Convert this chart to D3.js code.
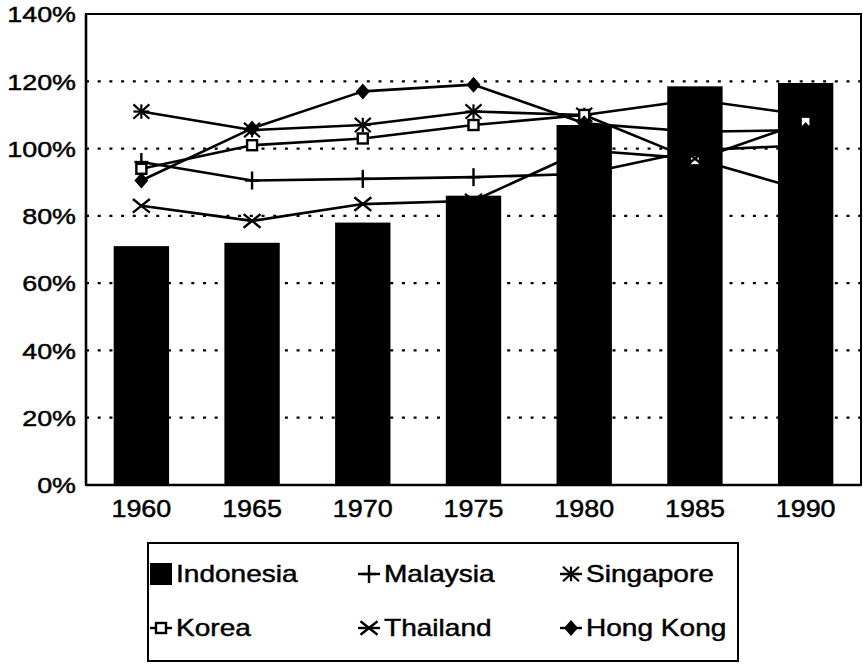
<!DOCTYPE html>
<html>
<head>
<meta charset="utf-8">
<script src="https://cdn.jsdelivr.net/npm/d3@7"></script>
<style>
  html, body { margin: 0; padding: 0; background: #fff; }
  svg { display: block; }
  text { font-family: "Liberation Sans", Arial, Helvetica, sans-serif; fill: #000; stroke: #000; stroke-width: 0.45px; }
</style>
</head>
<body>
<svg id="chart" width="863" height="664"></svg>
<script>
// Gross enrolment ratios, 1960-1990
const years = ["1960", "1965", "1970", "1975", "1980", "1985", "1990"];
const indonesia = [71, 72, 78, 86, 107, 118.5, 119.5];
const malaysia  = [96, 90.5, 91, 91.5, 92.5, 99.5, 101];
const singapore = [111, 105.5, 107, 111, 110, 114.5, 110];
const korea     = [94, 101, 103, 107, 110, 96.5, 108];
const thailand  = [83, 78.5, 83.5, 84.5, 99.5, 97, 87.5];
const hongKong  = [90.5, 106, 117, 119, 107.5, 105, 105.5];
const yTicks = [0, 20, 40, 60, 80, 100, 120, 140];
const gridTicks = [20, 40, 60, 80, 100, 120];

const lineSeries = [
  { name: "Malaysia",  values: malaysia,  marker: "plus" },
  { name: "Singapore", values: singapore, marker: "asterisk" },
  { name: "Korea",     values: korea,     marker: "square" },
  { name: "Thailand",  values: thailand,  marker: "cross" },
  { name: "Hong Kong", values: hongKong,  marker: "diamond" }
];

const svg = d3.select("#chart");
const plotLeft = 86, plotRight = 861, plotTop = 14, plotBottom = 485;

const x = d3.scaleBand().domain(years).range([plotLeft, plotRight])
  .paddingInner(0.5).paddingOuter(0.25);
const y = d3.scaleLinear().domain([0, 140]).range([plotBottom, plotTop]);
const cx = yr => x(yr) + x.bandwidth() / 2;

// dotted gridlines
svg.append("g").selectAll("line").data(gridTicks).join("line")
  .attr("x1", plotLeft).attr("x2", plotRight)
  .attr("y1", d => y(d)).attr("y2", d => y(d))
  .attr("stroke", "#000").attr("stroke-width", 2.2)
  .attr("stroke-dasharray", "3 8.7");

// Indonesia bars
svg.append("g").selectAll("rect").data(indonesia).join("rect")
  .attr("x", (d, i) => x(years[i]))
  .attr("width", x.bandwidth())
  .attr("y", d => y(d))
  .attr("height", d => y(0) - y(d))
  .attr("fill", "#000");

// frame
svg.append("rect")
  .attr("x", plotLeft).attr("y", plotTop)
  .attr("width", plotRight - plotLeft).attr("height", plotBottom - plotTop)
  .attr("fill", "none").attr("stroke", "#000").attr("stroke-width", 2);
svg.append("line").attr("x1", plotLeft).attr("x2", plotLeft).attr("y1", plotTop).attr("y2", plotBottom)
  .attr("stroke", "#000").attr("stroke-width", 2.6);
svg.append("line").attr("x1", plotLeft).attr("x2", plotRight).attr("y1", plotBottom).attr("y2", plotBottom)
  .attr("stroke", "#000").attr("stroke-width", 2.6);

// y axis labels (stretched type)
const yAxis = d3.axisLeft(y).tickValues(yTicks).tickSize(0).tickFormat(d => d + "%");
const yg = svg.append("g").attr("transform", `translate(${plotLeft},0)`).call(yAxis);
yg.select(".domain").remove();
yg.selectAll(".tick text").each(function () {
  d3.select(this).attr("x", 0).attr("dy", "0.36em")
    .attr("font-size", 21.5).attr("text-anchor", "end")
    .attr("font-family", "'Liberation Sans', Arial, sans-serif")
    .attr("fill", "#000")
    .attr("transform", "translate(-10,0) scale(1.25,1)");
});

// x axis labels
const xAxis = d3.axisBottom(x).tickSize(0);
const xg = svg.append("g").attr("transform", `translate(0,${plotBottom})`).call(xAxis);
xg.select(".domain").remove();
xg.selectAll(".tick text").each(function () {
  d3.select(this).attr("y", 0).attr("dy", 0)
    .attr("font-size", 23)
    .attr("font-family", "'Liberation Sans', Arial, sans-serif")
    .attr("fill", "#000")
    .attr("transform", "translate(0,32) scale(1.17,1)");
});

// marker drawing
function drawMarker(g, type, px, py) {
  const s = "#000";
  if (type === "plus") {
    g.append("line").attr("x1", px).attr("x2", px).attr("y1", py - 9).attr("y2", py + 9)
      .attr("stroke", s).attr("stroke-width", 2.4);
    g.append("line").attr("x1", px - 7).attr("x2", px + 7).attr("y1", py).attr("y2", py)
      .attr("stroke", s).attr("stroke-width", 2.4);
  } else if (type === "asterisk") {
    const r = 8;
    [[-r, -r, r, r], [-r, r, r, -r], [0, -r, 0, r], [-r, 0, r, 0]].forEach(a => {
      g.append("line").attr("x1", px + a[0]).attr("y1", py + a[1] * 0.9)
        .attr("x2", px + a[2]).attr("y2", py + a[3] * 0.9)
        .attr("stroke", s).attr("stroke-width", 2.2);
    });
  } else if (type === "cross") {
    const r = 8.5;
    g.append("line").attr("x1", px - r).attr("y1", py - r * 0.8).attr("x2", px + r).attr("y2", py + r * 0.8)
      .attr("stroke", s).attr("stroke-width", 2.4);
    g.append("line").attr("x1", px - r).attr("y1", py + r * 0.8).attr("x2", px + r).attr("y2", py - r * 0.8)
      .attr("stroke", s).attr("stroke-width", 2.4);
  } else if (type === "square") {
    g.append("rect").attr("x", px - 5).attr("y", py - 5).attr("width", 10).attr("height", 10)
      .attr("fill", "#fff").attr("stroke", s).attr("stroke-width", 2.4);
  } else if (type === "diamond") {
    g.append("path")
      .attr("d", `M${px},${py - 8}L${px + 7},${py}L${px},${py + 8}L${px - 7},${py}Z`)
      .attr("fill", s);
  }
}

// lines
const line = d3.line().x((d, i) => cx(years[i])).y(d => y(d));
const linesG = svg.append("g");
lineSeries.forEach(sr => {
  linesG.append("path").datum(sr.values).attr("d", line)
    .attr("fill", "none").attr("stroke", "#000").attr("stroke-width", 2.6)
    .attr("stroke-linejoin", "round");
});
const markersG = svg.append("g");
lineSeries.forEach(sr => {
  sr.values.forEach((v, i) => drawMarker(markersG, sr.marker, cx(years[i]), y(v)));
});

// legend
const legendItems = [
  { name: "Indonesia", marker: "bar",      col: 0, row: 0 },
  { name: "Malaysia",  marker: "plus",     col: 1, row: 0 },
  { name: "Singapore", marker: "asterisk", col: 2, row: 0 },
  { name: "Korea",     marker: "square",   col: 0, row: 1 },
  { name: "Thailand",  marker: "cross",    col: 1, row: 1 },
  { name: "Hong Kong", marker: "diamond",  col: 2, row: 1 }
];
const lg = svg.append("g");
lg.append("rect").attr("x", 148).attr("y", 543).attr("width", 590).attr("height", 118)
  .attr("fill", "none").attr("stroke", "#000").attr("stroke-width", 2);
const colX = [161, 369, 571];
const rowY = [574, 628];
legendItems.forEach(it => {
  const mx = colX[it.col], my = rowY[it.row];
  if (it.marker === "bar") {
    lg.append("rect").attr("x", mx - 11).attr("y", my - 11).attr("width", 22).attr("height", 22)
      .attr("fill", "#000");
  } else {
    lg.append("line").attr("x1", mx - 11).attr("x2", mx + 11).attr("y1", my).attr("y2", my)
      .attr("stroke", "#000").attr("stroke-width", 2.4);
    drawMarker(lg, it.marker, mx, my);
  }
  lg.append("text")
    .attr("transform", `translate(${mx + 15},${my}) scale(1.22,1)`)
    .attr("dy", "0.36em")
    .attr("font-size", 23)
    .text(it.name);
});
</script>
</body>
</html>
